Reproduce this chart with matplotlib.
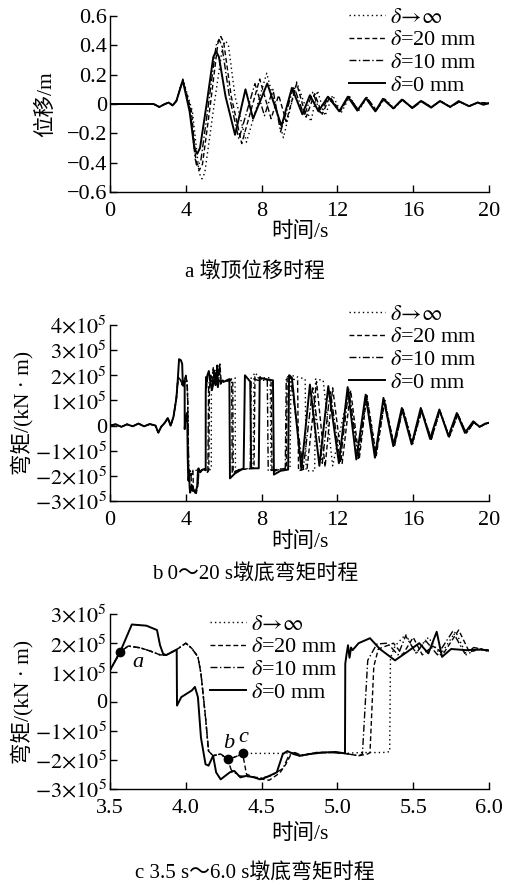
import matplotlib
matplotlib.use("Agg")
import matplotlib.pyplot as plt

plt.rcParams['font.family'] = ['Liberation Serif', 'Noto Sans CJK SC']
plt.rcParams['mathtext.fontset'] = 'stix'
plt.rcParams['axes.unicode_minus'] = True

# ---------------- data: panel a (pier-top displacement, m) ----------------
pre_t = [0, 2.3, 2.6, 2.9, 3.1, 3.3, 3.5]
pre_v = [0, 0, -0.02, 0, 0.01, -0.01, 0.02]

disp_t_0 = pre_t + [3.84, 4.2, 4.45, 4.6, 4.75, 5.1, 5.45, 5.6, 5.75, 6.1, 6.6, 7.15, 7.55, 8.3, 9.05, 9.6, 10.15,
                    10.55, 11.0, 11.5, 12.1, 12.55, 13.05, 13.5, 14.0, 14.4, 14.95, 15.4, 15.95, 16.4, 16.95,
                    17.4, 17.95, 18.4, 18.95, 19.4, 19.7, 20]
disp_v_0 = pre_v + [0.16, -0.05, -0.30, -0.34, -0.30, 0.0, 0.32, 0.36, 0.32, 0.05, -0.21, 0.10, -0.10, 0.14, -0.15,
                    0.11, -0.07, 0.06, -0.05, 0.05, -0.05, 0.05, -0.045, 0.04, -0.05, 0.035, -0.03, 0.03, -0.025,
                    0.02, -0.025, 0.02, -0.02, 0.02, -0.015, 0.01, -0.005, 0.005]

disp_t_10 = pre_t + [3.84, 4.25, 4.5, 4.65, 4.8, 5.2, 5.6, 5.75, 5.9, 6.3, 6.8, 7.65, 8.15, 8.6, 9.0, 9.7, 10.25,
                     10.7, 11.1, 11.55, 12.1, 12.6, 13.1, 13.55, 14.05, 14.45, 14.95, 15.45, 15.95, 16.45, 16.95,
                     17.45, 17.95, 18.45, 18.95, 19.4, 20]
disp_v_10 = pre_v + [0.165, -0.05, -0.38, -0.42, -0.38, 0.0, 0.40, 0.44, 0.40, 0.05, -0.24, 0.14, -0.08, 0.10,
                     -0.19, 0.12, -0.08, 0.08, -0.06, 0.05, -0.05, 0.05, -0.04, 0.045, -0.045, 0.035, -0.03, 0.03,
                     -0.03, 0.02, -0.02, 0.02, -0.02, 0.015, -0.015, 0.01, 0.005]

disp_t_20 = pre_t + [3.84, 4.3, 4.55, 4.72, 4.88, 5.3, 5.7, 5.85, 6.0, 6.4, 6.95, 7.9, 8.5, 8.9, 9.3, 9.85, 10.35,
                     10.8, 11.2, 11.6, 12.15, 12.6, 13.1, 13.55, 14.05, 14.45, 14.95, 15.45, 15.95, 16.45, 16.95,
                     17.45, 17.95, 18.45, 18.95, 19.4, 20]
disp_v_20 = pre_v + [0.165, -0.05, -0.41, -0.45, -0.41, 0.0, 0.42, 0.46, 0.42, 0.05, -0.27, 0.17, -0.10, 0.06,
                     -0.12, 0.14, -0.09, 0.07, -0.07, 0.05, -0.05, 0.05, -0.04, 0.045, -0.045, 0.035, -0.03, 0.03,
                     -0.03, 0.02, -0.02, 0.02, -0.02, 0.015, -0.015, 0.01, 0.005]

disp_t_inf = pre_t + [3.84, 4.35, 4.7, 4.85, 5.0, 5.5, 5.95, 6.1, 6.25, 6.6, 7.2, 8.27, 9.15, 9.85, 10.6, 10.95,
                      11.35, 11.75, 12.2, 12.65, 13.1, 13.55, 14.05, 14.5, 15.0, 15.45, 15.95, 16.45, 16.95, 17.45,
                      17.95, 18.45, 18.95, 19.4, 20]
disp_v_inf = pre_v + [0.17, -0.05, -0.47, -0.51, -0.47, 0.0, 0.40, 0.43, 0.40, 0.05, -0.26, 0.21, -0.23, 0.15,
                      -0.12, 0.09, -0.08, 0.06, -0.06, 0.05, -0.05, 0.04, -0.04, 0.035, -0.03, 0.03, -0.03, 0.02,
                      -0.02, 0.02, -0.02, 0.015, -0.015, 0.01, 0.005]

# ---------------- data: panels b, c (pier-bottom moment, x1e5 kN*m) ----------------
mpre_t = [0, 0.3, 0.6, 0.9, 1.2, 1.5, 1.8, 2.1, 2.4, 2.55, 2.7, 2.9, 3.05, 3.2, 3.35, 3.5, 3.567]
mpre_v = [0, 0.05, -0.05, 0.05, -0.03, 0.08, -0.03, 0.06, 0.0, -0.28, -0.05, 0.12, 0.3, 0.0, 0.35, 1.07, 1.70]

mom_t_0 = mpre_t + [3.644, 3.74, 3.81, 3.83, 3.85, 3.87, 3.94, 3.942, 3.97, 4.04, 4.06, 4.08, 4.1, 4.13, 4.15,
                    4.18, 4.2, 4.23, 4.29, 4.32, 4.36, 4.4, 4.45, 4.49, 4.53, 4.6, 4.64, 4.67, 4.71, 4.75, 4.82,
                    4.9, 4.99, 5.05, 5.052, 5.06, 5.07, 5.08, 5.09, 5.1, 5.14, 5.215, 5.28, 5.38, 5.46, 5.54,
                    5.6, 5.655, 5.69, 5.75, 5.85, 5.95, 6.0,
                    6.3, 6.33, 6.6, 7.05, 7.12, 7.4, 7.45, 7.85, 7.9, 8.2, 8.6, 8.65, 9.0, 9.4, 9.45, 9.6,
                    10.1, 10.55, 11.05, 11.52, 12.08, 12.54, 13.0, 13.49, 13.98, 14.43, 14.95, 15.4, 15.92,
                    16.4, 16.89, 17.38, 17.86, 18.3, 18.73, 19.17, 19.5, 19.8, 20]
mom_v_0 = mpre_v + [2.64, 2.6, 2.45, 1.93, 1.64, 1.59, 1.78, -0.14, 0.15, 0.38, 0.5, 0.15, -1.24, -2.15, -2.2,
                    -1.86, -2.43, -2.67, -2.43, -2.38, -2.6, -2.55, -2.6, -2.67, -2.6, -2.43, -1.8, -1.7, -1.8,
                    -1.86, -1.8, -1.75, -1.73, -1.78, 1.3, 1.6, 1.93, 1.5, 1.85, 1.76, 2.0, 2.17, 1.8, 1.41, 1.7,
                    2.0, 1.65, 2.39, 1.53, 1.8, 1.76, 1.78, 1.74,
                    1.85, -2.1, -1.9, -1.7, 2.0, 1.75, -1.7, -1.7, 1.9, 1.85, 1.8, -1.95, -1.8, -1.75, 2.0, 1.9,
                    -1.75, 1.63, -1.6, 1.57, -1.5, 1.53, -1.35, 1.23, -1.28, 1.10, -0.82, 0.70, -0.75,
                    0.70, -0.53, 0.64, -0.42, 0.5, -0.29, 0.17, -0.05, 0.08, 0.11]

mid_t = [3.62, 3.70, 3.76, 3.83, 3.87, 3.94, 4.0, 4.04, 4.08, 4.1, 4.13, 4.15, 4.18, 4.23, 4.276]
mid_v = [1.9, 1.84, 1.74, 1.6, 1.59, 1.78, 2.0, 1.82, 1.53, 0.96, -0.54, -1.7, -1.86, -1.8, -1.98]

mom_t_10 = mpre_t + mid_t + [4.30, 4.35, 4.42, 4.5, 4.56, 4.64, 4.68, 4.72, 4.77, 4.86, 4.97, 5.05, 5.14, 5.165,
                             5.2, 5.26, 5.33, 5.40, 5.45, 5.52, 5.58, 5.66, 5.76, 5.84, 5.9, 6.0,
                             6.42, 6.45, 6.8, 7.4, 7.45, 7.8, 8.3, 8.35, 8.8, 9.25, 9.3, 9.5, 10.2, 10.7, 11.2,
                             11.62, 12.15, 12.6, 13.1, 13.5, 14.0, 14.45, 15.0, 15.45, 15.95, 16.45, 16.95, 17.4,
                             17.9, 18.35, 18.8, 19.2, 19.5, 20]
mom_v_10 = mpre_v + mid_v + [-2.35, -2.55, -2.58, -2.62, -2.55, -2.3, -1.85, -1.75, -1.86, -1.75, -1.75, -1.78,
                             -1.86, -1.8, 1.41, 1.97, 2.0, 1.6, 2.25, 1.65, 2.1, 1.6, 2.4, 1.65, 1.85, 1.75,
                             1.85, -1.9, -1.75, -1.7, 1.9, 1.8, 1.8, -1.8, -1.75, -1.7, 1.9, 2.0, -1.7, 1.5, -1.5,
                             1.4, -1.45, 1.45, -1.3, 1.15, -1.2, 1.0, -0.8, 0.65, -0.7, 0.62, -0.55, 0.58,
                             -0.45, 0.45, -0.3, 0.12, -0.05, 0.12]

mom_t_20 = mpre_t + mid_t + [4.30, 4.35, 4.375, 4.40, 4.45, 4.49, 4.55, 4.62, 4.66, 4.70, 4.75, 4.86, 4.97, 5.05,
                             5.14, 5.2, 5.215, 5.24, 5.27, 5.37, 5.43, 5.5, 5.56, 5.63, 5.7, 5.8, 5.87, 5.95, 6.0,
                             6.48, 6.5, 6.9, 7.6, 7.65, 8.0, 8.5, 8.55, 8.9, 9.3, 9.35, 9.9, 9.95, 10.4, 10.9,
                             11.35, 11.75, 12.25, 12.7, 13.15, 13.55, 14.05, 14.5, 15.0, 15.45, 15.95, 16.45,
                             16.95, 17.4, 17.9, 18.35, 18.8, 19.2, 19.5, 20]
mom_v_20 = mpre_v + mid_v + [-1.95, -1.85, -1.78, -2.49, -2.6, -2.65, -2.7, -2.45, -2.15, -1.75, -1.86, -1.75,
                             -1.75, -1.78, -1.86, -1.8, -1.75, 1.2, 1.8, 2.0, 1.6, 2.2, 1.6, 1.9, 1.65, 2.45,
                             1.7, 1.8, 1.75,
                             1.8, -1.85, -1.75, -1.7, 1.95, 1.85, 1.8, -1.85, -1.75, -1.7, 1.9, 1.8, -1.8, -1.7,
                             1.75, -1.65, 1.5, -1.5, 1.4, -1.35, 1.2, -1.2, 1.0, -0.85, 0.68, -0.7, 0.6, -0.55,
                             0.58, -0.45, 0.45, -0.3, 0.12, -0.05, 0.12]

mom_t_inf = mpre_t + mid_t + [4.30, 4.35, 4.375, 4.45, 4.55, 4.65, 4.69, 4.75, 4.86, 4.97, 5.05, 5.15, 5.3,
                              5.345, 5.35, 5.38, 5.45, 5.52, 5.6, 5.68, 5.78, 5.85, 5.92, 6.0,
                              6.6, 6.62, 7.0, 7.55, 7.6, 8.0, 8.45, 8.5, 9.0, 9.5, 9.55, 10.3, 10.35, 10.8,
                              10.85, 11.25, 11.75, 12.6, 13.1, 13.55, 14.05, 14.5, 15.0, 15.45, 15.98, 16.45,
                              16.95, 17.42, 17.92, 18.35, 18.8, 19.22, 19.5, 20]
mom_v_inf = mpre_v + mid_v + [-1.95, -1.85, -1.78, -1.78, -1.78, -1.78, -1.75, -1.86, -1.75, -1.75, -1.78,
                              -1.75, -1.75, -1.72, 1.5, 1.9, 2.3, 1.65, 2.2, 1.6, 2.4, 1.6, 1.8, 1.72,
                              1.9, -1.8, -1.75, -1.7, 2.1, 1.9, 1.9, -1.8, -1.75, -1.7, 2.0, 1.85, -1.8, -1.8,
                              1.85, 1.8, -1.6, 1.4, -1.3, 1.2, -1.15, 1.0, -0.85, 0.7, -0.72, 0.62,
                              -0.55, 0.58, -0.45, 0.45, -0.3, 0.15, -0.05, 0.12]

point_t = [3.567, 4.276, 4.375]
point_v = [1.70, -1.98, -1.78]
point_lbl = ['a', 'b', 'c']

legend_labels = [r'$\delta\!\rightarrow\!\infty$', r'$\delta$=20 mm', r'$\delta$=10 mm', r'$\delta$=0 mm']

disp_ticks = [-0.6, -0.4, -0.2, 0, 0.2, 0.4, 0.6]
disp_ticklabels = ['\u22120.6', '\u22120.4', '\u22120.2', '0', '0.2', '0.4', '0.6']
mom_ticks_b = [-3, -2, -1, 0, 1, 2, 3, 4]
mom_ticks_c = [-3, -2, -1, 0, 1, 2, 3]
x_ticks_ab = [0, 4, 8, 12, 16, 20]
x_ticks_c = [3.5, 4.0, 4.5, 5.0, 5.5, 6.0]


def mom_label(k):
    if k == 0:
        return '0'
    return r'$%d{\times}10^{5}$' % k


styles = [dict(ls=(0, (1, 2.2)), lw=1.0), dict(ls=(0, (3.5, 2)), lw=1.0),
          dict(ls=(0, (5, 1.8, 1, 1.8)), lw=1.0), dict(ls='-', lw=1.4)]

W, H = 506, 883
fig = plt.figure(figsize=(W / 100, H / 100), dpi=100)

TICK_FS = 16
LAB_FS = 15.5


def make_ax(top_px, bot_px):
    ax = fig.add_axes([110 / W, 1 - bot_px / H, 379 / W, (bot_px - top_px) / H])
    for s in ['top', 'right']:
        ax.spines[s].set_visible(False)
    for s in ['left', 'bottom']:
        ax.spines[s].set_linewidth(1.0)
    ax.tick_params(direction='in', length=5, width=1.0, labelsize=TICK_FS)
    ax.tick_params(axis='x', pad=7)
    ax.tick_params(axis='y', pad=2)
    return ax


def add_legend(ax, x_px, top_px):
    ax.legend(legend_labels, loc='upper left', bbox_to_anchor=(x_px / W, 1 - top_px / H),
              bbox_transform=fig.transFigure, frameon=False, borderpad=0, borderaxespad=0,
              handlelength=1.6, handletextpad=0.25, labelspacing=0.1, fontsize=16)


# panel a
axa = make_ax(16, 192)
for (t, v), st in zip([(disp_t_inf, disp_v_inf), (disp_t_20, disp_v_20), (disp_t_10, disp_v_10),
                       (disp_t_0, disp_v_0)], styles):
    axa.plot(t, v, color='black', **st)
axa.set_xlim(0, 20)
axa.set_ylim(-0.6, 0.6)
axa.set_xticks(x_ticks_ab)
axa.set_yticks(disp_ticks)
axa.set_yticklabels(disp_ticklabels)
axa.set_ylabel('位移/m', fontsize=LAB_FS)
axa.yaxis.set_label_coords(-0.143, 0.5)
axa.set_xlabel('时间/s', fontsize=LAB_FS)
axa.xaxis.set_label_coords(0.5, -0.17)
add_legend(axa, 349, 7)

# panel b
axb = make_ax(325, 501)
for (t, v), st in zip([(mom_t_inf, mom_v_inf), (mom_t_20, mom_v_20), (mom_t_10, mom_v_10),
                       (mom_t_0, mom_v_0)], styles):
    axb.plot(t, v, color='black', **st)
axb.set_xlim(0, 20)
axb.set_ylim(-3, 4)
axb.set_xticks(x_ticks_ab)
axb.set_yticks(mom_ticks_b)
axb.set_yticklabels([mom_label(k) for k in mom_ticks_b])
axb.set_ylabel('弯矩/(kN · m)', fontsize=LAB_FS)
axb.yaxis.set_label_coords(-0.203, 0.5)
axb.set_xlabel('时间/s', fontsize=LAB_FS)
axb.xaxis.set_label_coords(0.5, -0.176)
add_legend(axb, 349, 304)

# panel c
axc = make_ax(614, 789)
for (t, v), st in zip([(mom_t_inf, mom_v_inf), (mom_t_20, mom_v_20), (mom_t_10, mom_v_10),
                       (mom_t_0, mom_v_0)], styles):
    axc.plot(t, v, color='black', **st)
axc.plot(point_t, point_v, 'o', color='black', ms=6)
for tt, vv, lb in zip(point_t, point_v, point_lbl):
    dx = 0.12 if lb == 'a' else 0.005
    dy = -0.35 if lb == 'a' else 0.55
    axc.text(tt + dx, vv + dy, lb, fontsize=16, style='italic', ha='center', va='center',
             family='Liberation Serif')
axc.set_xlim(3.5, 6.0)
axc.set_ylim(-3, 3)
axc.set_xticks(x_ticks_c)
axc.set_xticklabels(['%.1f' % x for x in x_ticks_c])
axc.set_yticks(mom_ticks_c)
axc.set_yticklabels([mom_label(k) for k in mom_ticks_c])
axc.set_ylabel('弯矩/(kN · m)', fontsize=LAB_FS)
axc.yaxis.set_label_coords(-0.203, 0.5)
axc.set_xlabel('时间/s', fontsize=LAB_FS)
axc.xaxis.set_label_coords(0.5, -0.2)
add_legend(axc, 210, 614)

# captions
fig.text(255 / W, 1 - 272 / H, 'a 墩顶位移时程', ha='center', va='center', fontsize=15)
fig.text(255 / W, 1 - 575 / H, 'b 0～20 s墩底弯矩时程', ha='center', va='center', fontsize=15)
fig.text(255 / W, 1 - 874 / H, 'c 3.5 s～6.0 s墩底弯矩时程', ha='center', va='center', fontsize=15)

fig.savefig('out.png', dpi=100)
